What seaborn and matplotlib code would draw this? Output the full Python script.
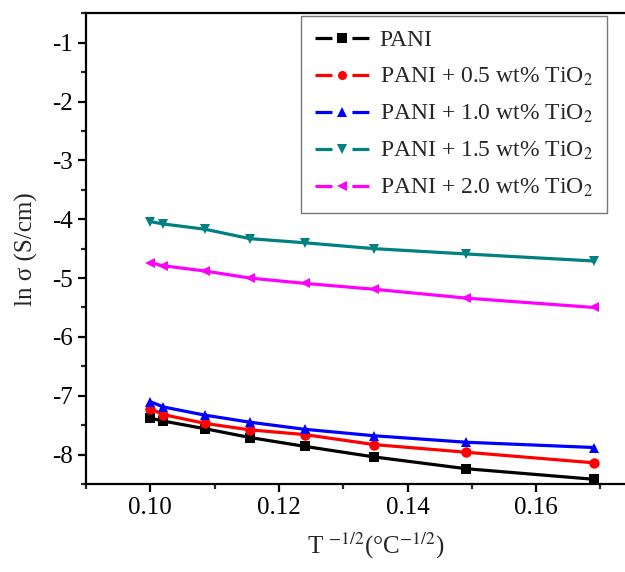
import numpy as np
import pandas as pd
import seaborn as sns
import matplotlib
matplotlib.use("Agg")
import matplotlib.pyplot as plt
from matplotlib.ticker import MultipleLocator, FixedLocator, FormatStrFormatter
from matplotlib.lines import Line2D

sns.set_theme(style="ticks")
plt.rcParams['font.family'] = ['Liberation Serif', 'DejaVu Serif']
plt.rcParams['mathtext.fontset'] = 'stix'
plt.rcParams['lines.scale_dashes'] = False

x_vals = [0.1000, 0.1020, 0.1085, 0.1155, 0.1240, 0.1348, 0.1491, 0.1690]
pani = [-7.38, -7.43, -7.56, -7.71, -7.86, -8.04, -8.24, -8.42]
pani_05 = [-7.22, -7.32, -7.47, -7.58, -7.66, -7.83, -7.96, -8.14]
pani_10 = [-7.10, -7.19, -7.33, -7.45, -7.57, -7.68, -7.79, -7.88]
pani_15 = [-4.04, -4.08, -4.17, -4.33, -4.40, -4.50, -4.59, -4.71]
pani_20 = [-4.74, -4.79, -4.88, -5.00, -5.09, -5.19, -5.34, -5.50]
x_ticks = [0.10, 0.12, 0.14, 0.16]

labels = ["PANI",
          r"PANI + 0.5 wt% TiO$_2$",
          r"PANI + 1.0 wt% TiO$_2$",
          r"PANI + 1.5 wt% TiO$_2$",
          r"PANI + 2.0 wt% TiO$_2$"]
series = [pani, pani_05, pani_10, pani_15, pani_20]
colors = ["#000000", "#ff0000", "#0000ff", "#008080", "#ff00ff"]
markers = ["s", "o", "^", "v", "<"]

rows = []
for lab, ys in zip(labels, series):
    for xv, yv in zip(x_vals, ys):
        rows.append({"x": xv, "y": yv, "sample": lab})
df = pd.DataFrame(rows)

fig = plt.figure(figsize=(6.25, 5.72), dpi=100)
W, H = 625, 572
left, top, bottom = 86, 13.3, 484
right = 86 + 0.09 * 6430
ax = fig.add_axes([left / W, 1 - bottom / H, (right - left) / W, (bottom - top) / H])

sns.lineplot(data=df, x="x", y="y", hue="sample", style="sample",
             hue_order=labels, style_order=labels,
             palette=dict(zip(labels, colors)),
             markers=dict(zip(labels, markers)), dashes=False,
             linewidth=2.3, markersize=7.5, markeredgewidth=0,
             ax=ax, legend=False, sort=True)

ax.set_xlim(0.09, 0.18)
ax.set_ylim(-8.5, -0.5)
ax.xaxis.set_major_locator(FixedLocator(x_ticks))
ax.xaxis.set_minor_locator(FixedLocator([0.09, 0.11, 0.13, 0.15, 0.17]))
ax.xaxis.set_major_formatter(FormatStrFormatter('%.2f'))
ax.yaxis.set_major_locator(MultipleLocator(1))
ax.yaxis.set_minor_locator(MultipleLocator(0.5))
ax.yaxis.set_major_formatter(FormatStrFormatter('%d'))

for s in ["left", "bottom", "top"]:
    ax.spines[s].set_linewidth(1.6)
    ax.spines[s].set_color("black")
ax.spines["right"].set_visible(False)
ax.tick_params(which="major", direction="out", length=6, width=1.6,
               labelsize=18, colors="black", top=False, right=False)
ax.tick_params(which="minor", direction="out", length=3.5, width=1.6,
               top=False, right=False)

ax.set_xlabel(r"T $^{-1/2}$(°C$^{-1/2}$)", fontsize=18, labelpad=8)
ax.set_ylabel(r"ln σ (S/cm)", fontsize=18, labelpad=10)

handles = [Line2D([0], [0], color=c, marker=m, linewidth=2.3, markersize=6.5,
                  markeredgewidth=0, dashes=(12.2, 14.4))
           for c, m in zip(colors, markers)]
leg = fig.legend(handles, labels, loc="upper right",
                 bbox_to_anchor=(607 / W, 1 - 15.7 / H),
                 frameon=True, fancybox=False, fontsize=17,
                 handlelength=2.29, handletextpad=0.45, labelspacing=0.62,
                 borderpad=0.6, borderaxespad=0)
leg.get_frame().set_edgecolor("#555555")
leg.get_frame().set_linewidth(1.0)

fig.savefig("out.png", dpi=100)
